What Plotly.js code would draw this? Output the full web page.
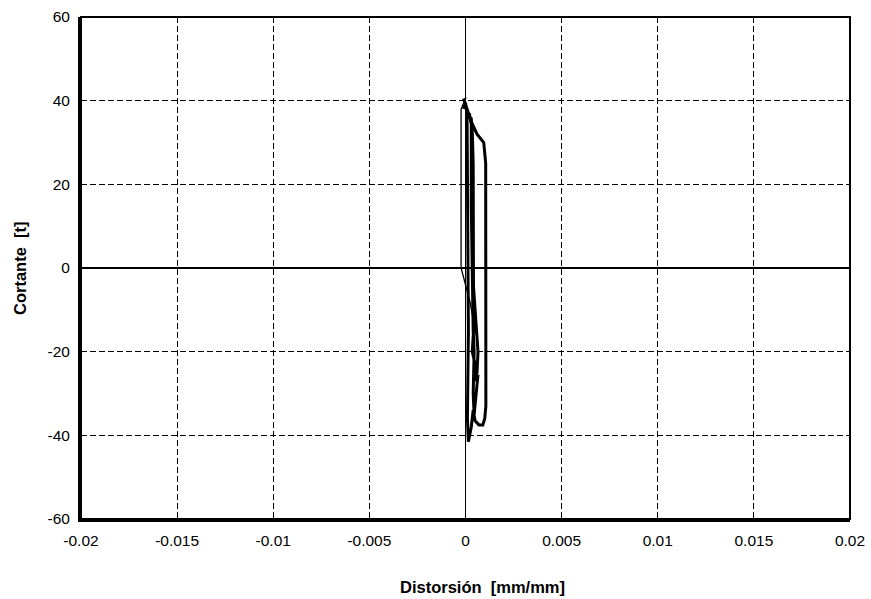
<!DOCTYPE html>
<html>
<head>
<meta charset="utf-8">
<script src="https://cdn.plot.ly/plotly-3.0.1.min.js"></script>
<style>html,body{margin:0;padding:0;background:#fff}#chart{width:871px;height:599px}</style>
</head>
<body>
<div id="chart"></div>
<script>
// Thin first-cycle branch
var thinX = [0.00055, 0.0004, 0.00023, -0.00023, -0.00023, -0.00013, 0.00003];
var thinY = [-16, -12, -8, 0, 37.9, 39.1, 40.8];
// Thick outer loop
var loopX = [-0.0001, 0.0001, 0.0003, 0.0006, 0.00095, 0.00105, 0.00106, 0.00106, 0.001, 0.0009, 0.0007, 0.0005, 0.0004, 0.0003, 0.00015, 0.0001, 0.00015, 0.00012, 0.0001, 0.00008, 0.0, -0.0001];
var loopY = [40.5, 38, 35, 32, 30, 25, 0, -33, -36, -37.5, -37.5, -36.5, -34, -38, -41.5, -36, -15, 10, 30, 37, 39.5, 38];
// Thick inner cycles
var innerX = [0.0002, 0.00035, 0.0004, 0.0004, 0.00042, 0.00035, 0.0005, 0.00045, 0.0006, 0.00065, 0.0005, 0.00035, 0.0003, 0.00028, 0.0003, 0.0003, 0.00035, 0.0004, 0.00045, 0.0004, 0.00045, 0.00065];
var innerY = [37, 33, 25, 0, -15, -20, -23, -27, -25, -20, -10, 0, 15, 30, 36, 20, 0, -15, -20, -30, -35, -25.5];

var xTicks = [-0.02, -0.015, -0.01, -0.005, 0, 0.005, 0.01, 0.015, 0.02];
var xTickText = ["-0.02", "-0.015", "-0.01", "-0.005", "0", "0.005", "0.01", "0.015", "0.02"];
var yTicks = [-60, -40, -20, 0, 20, 40, 60];
var yTickText = ["-60", "-40", "-20", "0", "20", "40", "60"];
var xTitle = "Distorsión\u00a0\u00a0[mm/mm]";
var yTitle = "Cortante\u00a0\u00a0[t]";

var tickFont = {family: "Liberation Sans, Arial, sans-serif", size: 15.5, color: "#000"};
var titleFont = {family: "Liberation Sans, Arial, sans-serif", size: 16.5, color: "#000"};

var traces = [
  {x: thinX, y: thinY, mode: "lines", line: {color: "#000", width: 1.3}, hoverinfo: "skip"},
  {x: loopX, y: loopY, mode: "lines", line: {color: "#000", width: 3}, hoverinfo: "skip"},
  {x: innerX, y: innerY, mode: "lines", line: {color: "#000", width: 3}, hoverinfo: "skip"}
];

var layout = {
  width: 871, height: 599,
  margin: {l: 81, r: 21, t: 17, b: 80},
  paper_bgcolor: "#fff", plot_bgcolor: "#fff",
  showlegend: false,
  font: tickFont,
  xaxis: {
    range: [-0.02, 0.02], tickvals: xTicks, ticktext: xTickText,
    showgrid: true, gridcolor: "#000", gridwidth: 1, griddash: "6px,3px",
    zeroline: true, zerolinecolor: "#000", zerolinewidth: 1.5,
    showline: true, linecolor: "#000", linewidth: 3, mirror: false,
    ticks: "", ticklabelstandoff: 5, tickfont: tickFont
  },
  yaxis: {
    range: [-60, 60], tickvals: yTicks, ticktext: yTickText,
    showgrid: true, gridcolor: "#000", gridwidth: 1, griddash: "6px,3px",
    zeroline: true, zerolinecolor: "#000", zerolinewidth: 1.5,
    showline: true, linecolor: "#000", linewidth: 3, mirror: false,
    ticks: "", ticklabelstandoff: 5, tickfont: tickFont
  },
  annotations: [
    {text: "<b>" + xTitle + "</b>", xref: "paper", yref: "paper", x: 0.5215, y: -0.1355,
     xanchor: "center", yanchor: "middle", showarrow: false, font: titleFont},
    {text: "<b>" + yTitle + "</b>", xref: "paper", yref: "paper", x: -0.0793, y: 0.5,
     xanchor: "center", yanchor: "middle", showarrow: false, textangle: -90, font: titleFont}
  ],
  shapes: [
    {type: "rect", xref: "paper", yref: "paper", x0: 0, x1: 1, y0: 0, y1: 1, line: {color: "#000", width: 2}, layer: "above"}
  ]
};

Plotly.newPlot("chart", traces, layout, {staticPlot: true, displayModeBar: false});
</script>
</body>
</html>
